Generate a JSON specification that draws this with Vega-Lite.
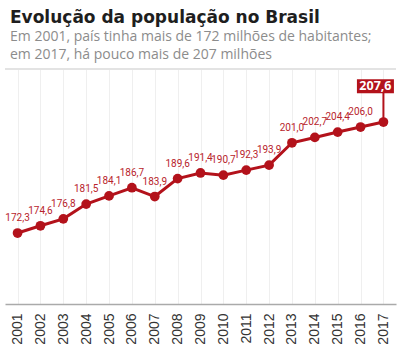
{
  "$schema": "https://vega.github.io/schema/vega-lite/v6.json",
  "autosize": {"type": "none"},
  "padding": {"left": 5, "top": 68, "right": 4, "bottom": 50},
  "width": 391,
  "height": 236,
  "background": "white",
  "title": {
    "text": "Evolução da população no Brasil",
    "subtitle": ["Em 2001, país tinha mais de 172 milhões de habitantes;", "em 2017, há pouco mais de 207 milhões"],
    "anchor": "start",
    "frame": "group",
    "dx": 5,
    "font": "DejaVu Sans",
    "fontSize": 17,
    "fontWeight": "bold",
    "color": "#1e1e1e",
    "subtitleFont": "Open Sans",
    "subtitleFontSize": 14,
    "subtitleColor": "#8c8c8c",
    "subtitleLineHeight": 18,
    "subtitlePadding": 3,
    "offset": 5
  },
  "data": {
    "values": [
      {"year": 2001, "value": 172.3, "label": "172,3"},
      {"year": 2002, "value": 174.6, "label": "174,6"},
      {"year": 2003, "value": 176.8, "label": "176,8"},
      {"year": 2004, "value": 181.5, "label": "181,5"},
      {"year": 2005, "value": 184.1, "label": "184,1"},
      {"year": 2006, "value": 186.7, "label": "186,7"},
      {"year": 2007, "value": 183.9, "label": "183,9"},
      {"year": 2008, "value": 189.6, "label": "189,6"},
      {"year": 2009, "value": 191.4, "label": "191,4"},
      {"year": 2010, "value": 190.7, "label": "190,7"},
      {"year": 2011, "value": 192.3, "label": "192,3"},
      {"year": 2012, "value": 193.9, "label": "193,9"},
      {"year": 2013, "value": 201.0, "label": "201,0"},
      {"year": 2014, "value": 202.7, "label": "202,7"},
      {"year": 2015, "value": 204.4, "label": "204,4"},
      {"year": 2016, "value": 206.0, "label": "206,0"},
      {"year": 2017, "value": 207.6, "label": "207,6"}
    ]
  },
  "encoding": {
    "x": {
      "field": "year",
      "type": "ordinal",
      "scale": {"type": "point", "padding": 0.55},
      "axis": {
        "title": null,
        "labelAngle": -90,
        "labelAlign": "right",
        "labelBaseline": "middle",
        "labelFont": "Liberation Sans",
        "labelFontSize": 14,
        "labelColor": "#333333",
        "labelPadding": 9,
        "ticks": false,
        "domainColor": "#aaaaaa",
        "domainWidth": 1.5,
        "grid": true,
        "gridColor": "#efefef",
        "gridWidth": 1
      }
    },
    "y": {
      "field": "value",
      "type": "quantitative",
      "scale": {"domain": [149.72, 224.78], "nice": false, "zero": false},
      "axis": null
    }
  },
  "layer": [
    {
      "transform": [{"filter": "datum.year == 2001"}],
      "mark": {"type": "rule", "color": "#e3e3e3", "strokeWidth": 2},
      "encoding": {"x": null, "y": {"datum": 224.5, "type": "quantitative"}}
    },
    {
      "mark": {"type": "line", "color": "#b3121b", "strokeWidth": 3}
    },
    {
      "mark": {"type": "point", "filled": true, "color": "#b3121b", "opacity": 1, "size": 95}
    },
    {
      "transform": [{"filter": "datum.year != 2017"}],
      "mark": {"type": "text", "color": "#b8232b", "font": "Roboto", "fontSize": 10, "dy": -12, "baseline": "alphabetic", "align": "center"},
      "encoding": {"text": {"field": "label"}}
    },
    {
      "transform": [{"filter": "datum.year == 2017"}],
      "mark": {"type": "rule", "color": "#b3121b", "strokeWidth": 2},
      "encoding": {"y2": {"datum": 218.96}}
    },
    {
      "transform": [{"filter": "datum.year == 2017"}],
      "mark": {"type": "point", "filled": true, "color": "#b3121b", "opacity": 1, "shape": "M-1,-0.38H1V0.38H-1Z", "size": 1369, "xOffset": -8},
      "encoding": {"y": {"datum": 218.96, "type": "quantitative"}}
    },
    {
      "transform": [{"filter": "datum.year == 2017"}],
      "mark": {"type": "text", "color": "white", "font": "Open Sans", "fontWeight": "bold", "fontSize": 12.5, "baseline": "middle", "align": "center", "xOffset": -8},
      "encoding": {"y": {"datum": 218.96, "type": "quantitative"}, "text": {"field": "label"}}
    }
  ],
  "config": {"view": {"stroke": null}}
}
